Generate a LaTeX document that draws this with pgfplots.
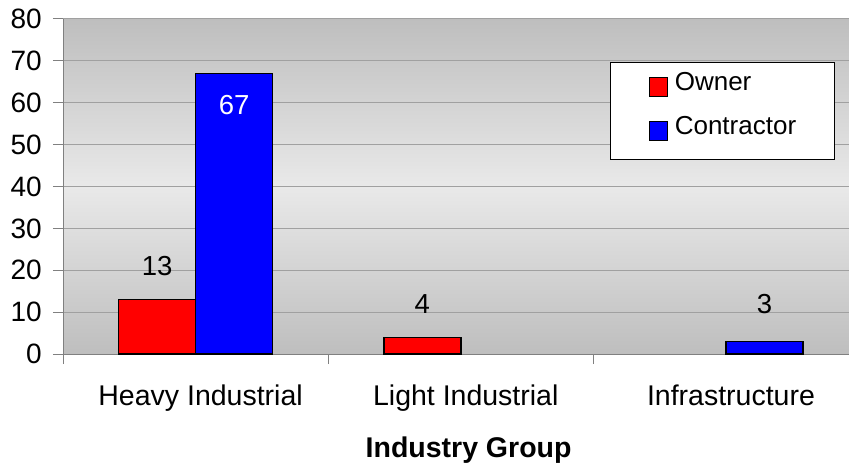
\documentclass[border=0pt]{standalone}
\usepackage{fontspec}
\setmainfont{Liberation Sans}
\usepackage{pgfplots}
\pgfplotsset{compat=1.18}
\definecolor{barred}{RGB}{255,0,0}
\definecolor{barblue}{RGB}{0,0,255}
\definecolor{gridgray}{RGB}{160,160,160}
\definecolor{axgray}{RGB}{128,128,128}
\definecolor{bgdark}{RGB}{190,190,190}
\definecolor{bglight}{RGB}{233,233,233}
\begin{document}
\begin{tikzpicture}
\useasboundingbox (-63bp,-111bp) rectangle (786bp,354bp);
\begin{axis}[
  at={(0,0)}, anchor=south west,
  scale only axis, width=786bp, height=335bp,
  ybar, bar width=77bp,
  xmin=-0.5, xmax=2.464,
  ymin=0, ymax=80, ytick={0,10,...,80},
  axis x line*=bottom, axis y line*=left,
  axis line style={-, axgray, line width=1pt},
  axis background/.style={top color=bgdark, bottom color=bgdark, middle color=bglight},
  ymajorgrids, grid style={gridgray, line width=1pt},
  tick align=outside, major tick length=10bp,
  tick style={axgray, line width=1pt},
  /pgf/number format/assume math mode=true,
  yticklabel style={font=\fontsize{28bp}{30bp}\selectfont, inner sep=0pt, xshift=-11bp},
  xtick={-0.5,0.5,1.5}, xticklabels={},
  extra x ticks={0,1,2},
  extra x tick labels={Heavy Industrial, Light Industrial, Infrastructure},
  extra x tick style={tick style={draw=none}, grid=none,
    tick label style={font=\fontsize{28.5bp}{30bp}\selectfont, inner sep=0pt, anchor=base, xshift=5bp, yshift=-41bp}},
  xlabel={\textbf{Industry Group}},
  xlabel style={font=\fontsize{28.5bp}{30bp}\selectfont, at={(axis description cs:0.516,0)}, anchor=base, yshift=-103bp},
  legend cell align=left,
  legend style={at={(rel axis cs:0.696,0.872)}, anchor=north west, draw=black, line width=1bp, fill=white,
    font=\fontsize{26bp}{28bp}\selectfont, inner xsep=38bp, inner ysep=10bp, row sep=11.5bp, column sep=7bp,
    nodes={inner sep=0pt, text depth=0pt}},
  legend image code/.code={\path (0bp,-23bp); \draw[#1, draw=black, line width=1bp] (0bp,-15bp) rectangle (18bp,4bp);},
  nodes near coords,
  every node near coord/.append style={font=\fontsize{27.5bp}{30bp}\selectfont, inner sep=0pt, anchor=south},
]
\addplot[fill=barred, draw=black, line width=1.5bp, bar shift=-38.5bp,
  every node near coord/.append style={yshift=23bp, text=black}]
  coordinates {(0,13) (1,4)};
\addlegendentry{Owner}
\addplot[fill=barblue, draw=black, line width=1.5bp, bar shift=38.5bp,
  every node near coord/.append style={yshift=-42bp, text=white}]
  coordinates {(0,67)};
\addlegendentry{Contractor}
\addplot[fill=barblue, draw=black, line width=1.5bp, bar shift=38.5bp, forget plot,
  every node near coord/.append style={yshift=27bp, text=black}]
  coordinates {(2,3)};
\end{axis}
\end{tikzpicture}
\end{document}
